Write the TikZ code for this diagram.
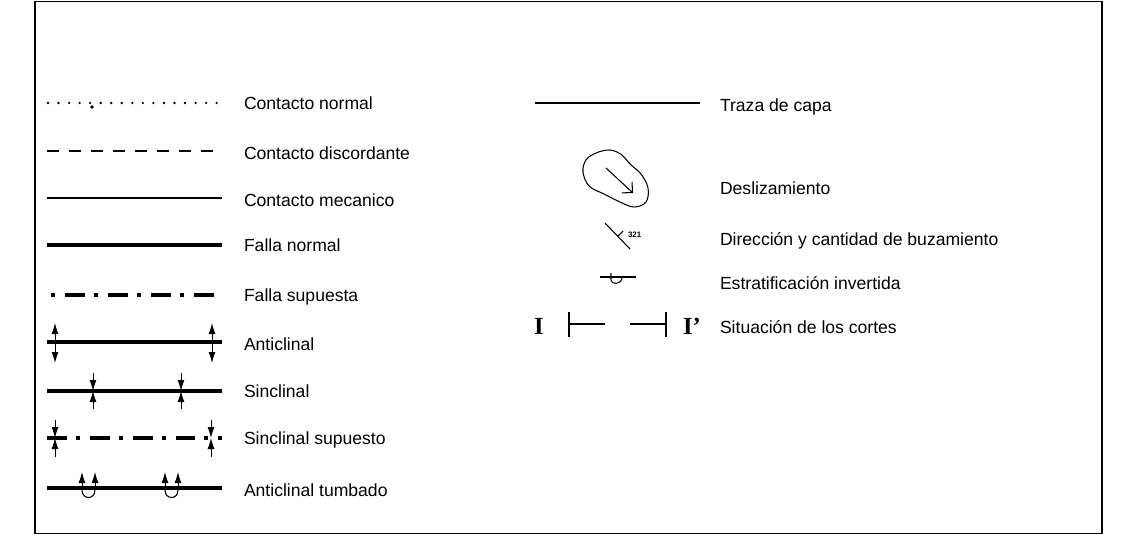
\documentclass[tikz,border=0pt]{standalone}
\usepackage{fontspec}
\setmainfont{Liberation Sans}
\newfontfamily\cortefont{Liberation Serif}
\usepackage{tikz}
\usetikzlibrary{positioning}
\usetikzlibrary{arrows.meta}
\usetikzlibrary{calc}
\tikzset{
  contacto/.style={line width=0.6pt},
  falla/.style={line width=1.8pt},
  supuesta/.style={line width=1.8pt,dash pattern=on 11.3pt off 5.1pt on 2.3pt off 5.7pt},
  pliegue/.style={line width=0.5pt,-{Latex[length=0.22cm,width=0.14cm]}},
  lbl/.style={anchor=west,inner sep=0,font=\fontsize{10}{12}\selectfont},
  corte/.style={font=\cortefont\fontsize{14}{16}\selectfont\bfseries}
}
\begin{document}
\begin{tikzpicture}[x=0.02cm,y=-0.02cm,node distance=0.44cm,every node/.style={inner sep=0,outer sep=0}]
	\useasboundingbox (0,0) rectangle (1128,551);
	\draw[line width=1.1pt] (35,1.5) rectangle (1102,533.5);
	% columna izquierda
	\coordinate (cn-a) at (48,103);
	\coordinate (cn-b) at (222,103);
	\coordinate (cn-p) at (92,107);
	\coordinate (cd-a) at (47,151);
	\coordinate (cd-b) at (222,151);
	\coordinate (cm-a) at (47,198);
	\coordinate (cm-b) at (222,198);
	\coordinate (fn-a) at (47,245);
	\coordinate (fn-b) at (222,245);
	\coordinate (fs-a) at (47,295);
	\coordinate (fs-b) at (222,295);
	\coordinate (an-a) at (47,342);
	\coordinate (an-b) at (222,342);
	\coordinate (sn-a) at (47,391);
	\coordinate (sn-b) at (222,391);
	\coordinate (ss-a) at (47,438);
	\coordinate (ss-b) at (222,438);
	\coordinate (at-a) at (47,488);
	\coordinate (at-b) at (222,488);
	\draw[line width=1.5pt,line cap=round,dash pattern=on 0pt off 6pt] (cn-a) -- (cn-b);
	\fill (cn-p) circle (1.8);
	\draw[line width=0.85pt,dash pattern=on 7pt off 5.5pt] (cd-a) -- (cd-b);
	\draw[contacto] (cm-a) -- (cm-b);
	\draw[falla] (fn-a) -- (fn-b);
	\draw[supuesta,dash phase=14pt] (fs-a) -- (fs-b);
	\draw[falla] (an-a) -- (an-b);
	\draw[falla] (sn-a) -- (sn-b);
	\draw[supuesta] (ss-a) -- (ss-b);
	\draw[falla] (at-a) -- (at-b);
	% simbolos de pliegues
	\coordinate (an-1) at (55,342);
	\coordinate (an-2) at (212,342);
	\draw[pliegue] (an-1) -- ($(an-1)+(0,-19)$);
	\draw[pliegue] (an-1) -- ($(an-1)+(0,21)$);
	\draw[pliegue] (an-2) -- ($(an-2)+(0,-19)$);
	\draw[pliegue] (an-2) -- ($(an-2)+(0,21)$);
	\coordinate (sn-1) at (93,391);
	\coordinate (sn-2) at (181,391);
	\draw[pliegue] ($(sn-1)+(0,-18)$) -- (sn-1);
	\draw[pliegue] ($(sn-1)+(0,18)$) -- (sn-1);
	\draw[pliegue] ($(sn-2)+(0,-18)$) -- (sn-2);
	\draw[pliegue] ($(sn-2)+(0,18)$) -- (sn-2);
	\coordinate (ss-1) at (55,438);
	\coordinate (ss-2) at (211,438);
	\draw[pliegue] ($(ss-1)+(0,-18)$) -- (ss-1);
	\draw[pliegue] ($(ss-1)+(0,19)$) -- (ss-1);
	\draw[pliegue] ($(ss-2)+(0,-18)$) -- (ss-2);
	\draw[pliegue] ($(ss-2)+(0,19)$) -- (ss-2);
	\coordinate (at-1) at (82,490);
	\coordinate (at-2) at (95,490);
	\coordinate (at-3) at (165,490);
	\coordinate (at-4) at (178,490);
	\draw[pliegue] (at-1) -- (82,472);
	\draw[pliegue] (at-2) -- (95,472);
	\draw[pliegue] (at-3) -- (165,472);
	\draw[pliegue] (at-4) -- (178,472);
	\draw[contacto] (at-1) .. controls (82,500) and (95,500) .. (at-2);
	\draw[contacto] (at-3) .. controls (165,500) and (178,500) .. (at-4);
	% textos izquierda
	\node (t-cn) [lbl, right=of cn-b] {Contacto normal};
	\node (t-cd) [lbl, right=of cd-b, yshift=-1pt] {Contacto discordante};
	\node (t-cm) [lbl, right=of cm-b, yshift=-1pt] {Contacto mecanico};
	\node (t-fn) [lbl, right=of fn-b] {Falla normal};
	\node (t-fs) [lbl, right=of fs-b, yshift=-1pt] {Falla supuesta};
	\node (t-an) [lbl, right=of an-b, yshift=-1pt] {Anticlinal};
	\node (t-sn) [lbl, right=of sn-b] {Sinclinal};
	\node (t-ss) [lbl, right=of ss-b, yshift=-1pt] {Sinclinal supuesto};
	\node (t-at) [lbl, right=of at-b, yshift=-1pt] {Anticlinal tumbado};
	% columna derecha
	\coordinate (tc-a) at (535,103);
	\coordinate (tc-b) at (700,103);
	\draw[contacto] (tc-a) -- (tc-b);
	\draw[contacto] plot[smooth cycle,tension=0.6] coordinates {(583,172) (586,160) (596,153) (610,150) (622,155) (630,164) (641,174) (648,188) (646,202) (634,207) (620,202) (604,194) (589,186)};
	\coordinate (dz-a) at (606,168);
	\coordinate (dz-b) at (633,193);
	\draw[contacto,-{Straight Barb[length=0.15cm,width=0.3cm]}] (dz-a) -- (dz-b);
	\coordinate (bz-a) at (605,223);
	\coordinate (bz-b) at (630,249);
	\coordinate (bz-m) at (618,236);
	\draw[contacto] (bz-a) -- (bz-b);
	\draw[contacto] (bz-m) -- ($(bz-m)+(5,-5)$);
	\node (bz-n) [anchor=west,font=\fontsize{4.5}{5}\selectfont\bfseries] at (628,235) {321};
	\coordinate (ei-a) at (600,277);
	\coordinate (ei-b) at (636,277);
	\draw[contacto] (ei-a) -- (ei-b);
	\draw[contacto] (611,273) -- (611,280) .. controls (611,285) and (622,285) .. (622,277);
	\node (c-1) [corte] at (539,326) {I};
	\coordinate (c-1a) at (569,324);
	\coordinate (c-1b) at (605,324);
	\coordinate (c-2a) at (630,324);
	\coordinate (c-2b) at (666,324);
	\draw[contacto] (569,312) -- (569,337);
	\draw[contacto] (c-1a) -- (c-1b);
	\draw[contacto] (c-2a) -- (c-2b);
	\draw[contacto] (666,312) -- (666,337);
	\node (c-2) [corte,anchor=west] at (683,326) {I’};
	% textos derecha
	\node (t-tc) [lbl] at (720,107) {Traza de capa};
	\node (t-dz) [lbl] at (720,188) {Deslizamiento};
	\node (t-bz) [lbl] at (720,241) {Dirección y cantidad de buzamiento};
	\node (t-ei) [lbl] at (720,283) {Estratificación invertida};
	\node (t-sc) [lbl] at (720,327) {Situación de los cortes};
\end{tikzpicture}
\end{document}
